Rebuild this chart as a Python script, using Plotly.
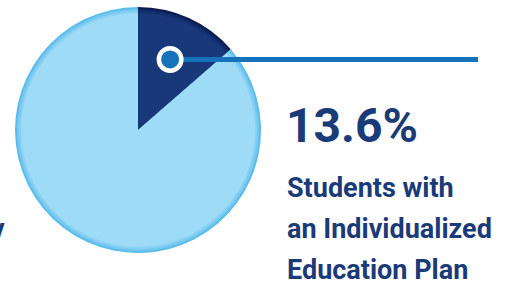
import math
import plotly.graph_objects as go

# Data
labels = ["Students with an Individualized Education Plan", "Other students"]
values = [13.6, 86.4]
pct_label = "13.6%"
desc_lines = ["Students with", "an Individualized", "Education Plan"]

W, H = 514, 286
cx, cy, r = 138, 130, 123  # pie geometry in px (top-left origin)

# rim -> inner colour steps (soft inner-shadow look)
dark_steps = ["#0a1d4c", "#10286a", "#153174", "#193879"]
light_steps = ["#5cbcea", "#76c8f0", "#8ad2f3", "#9edbf6"]
text_col = "#1b3a78"
line_col = "#1473bb"
FONT = "Roboto, Liberation Sans, Arial, sans-serif"

fig = go.Figure()

for i, (dc, lc) in enumerate(zip(dark_steps, light_steps)):
    inset = 2 * i
    fig.add_trace(go.Pie(
        labels=labels, values=values, sort=False, direction="clockwise", rotation=0,
        marker=dict(colors=[dc, lc], line=dict(width=0)),
        textinfo="none", hoverinfo="skip", showlegend=False,
        domain=dict(x=[(cx - r + inset) / W, (cx + r - inset) / W],
                    y=[1 - (cy + r - inset) / H, 1 - (cy - r + inset) / H]),
    ))

# marker at mid-angle of the first slice
ang = math.radians(values[0] / 2 * 360 / sum(values))
dist = 0.63 * r
mx = cx + dist * math.sin(ang)
my = cy - dist * math.cos(ang)
line_end = 478

fig.add_shape(type="line", x0=mx, y0=my, x1=line_end, y1=my, xref="x", yref="y",
              line=dict(color=line_col, width=5), layer="above")
ro, ri = 13.5, 9
fig.add_shape(type="circle", x0=mx - ro, x1=mx + ro, y0=my - ro, y1=my + ro, xref="x", yref="y",
              fillcolor="white", line=dict(width=0), layer="above")
fig.add_shape(type="circle", x0=mx - ri, x1=mx + ri, y0=my - ri, y1=my + ri, xref="x", yref="y",
              fillcolor=line_col, line=dict(width=0), layer="above")

fig.add_annotation(x=284, y=125, xref="x", yref="y", text=pct_label, showarrow=False,
                   xanchor="left", yanchor="middle",
                   font=dict(family=FONT, size=48, weight=700, color=text_col))
for i, t in enumerate(desc_lines):
    fig.add_annotation(x=285, y=188 + 41 * i, xref="x", yref="y", text=t, showarrow=False,
                       xanchor="left", yanchor="middle",
                       font=dict(family=FONT, size=27, weight=700, color=text_col))
# clipped text from neighbouring panel
fig.add_annotation(x=7, y=229, xref="x", yref="y", text="y", showarrow=False,
                   xanchor="right", yanchor="middle",
                   font=dict(family=FONT, size=27, weight=700, color=text_col))

fig.update_layout(
    width=W, height=H, margin=dict(l=0, r=0, t=0, b=0),
    paper_bgcolor="white", plot_bgcolor="rgba(0,0,0,0)",
    xaxis=dict(range=[0, W], visible=False, fixedrange=True, domain=[0, 1]),
    yaxis=dict(range=[H, 0], visible=False, fixedrange=True, domain=[0, 1]),
)
fig.write_html("out.html", config={"displayModeBar": False},
               post_script="document.body.style.margin='0';")
